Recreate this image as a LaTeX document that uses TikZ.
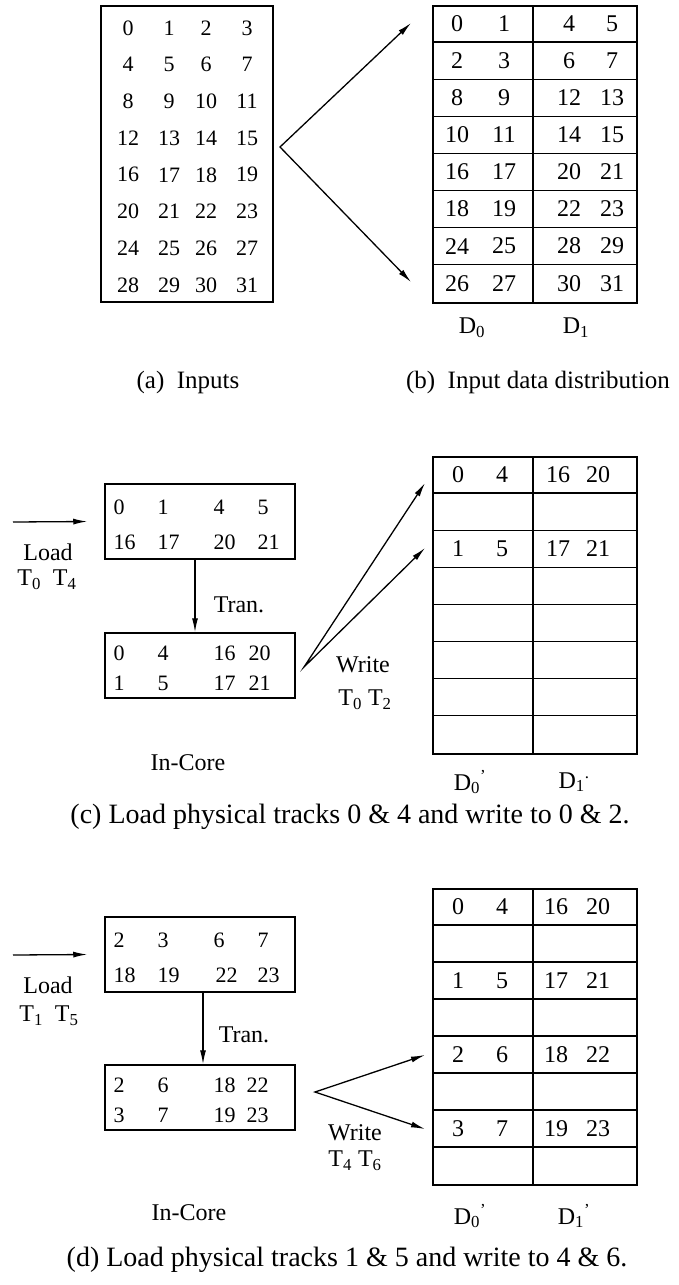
\documentclass[tikz,border=0pt]{standalone}
\usepackage{fontspec}
\setmainfont{Liberation Serif}
\usetikzlibrary{arrows.meta}

\tikzset{
  box/.style={draw, line width=1.5pt, inner sep=0pt},
  rule/.style={line width=1.3pt},
  num/.style={font=\fontsize{22}{24}\selectfont, inner sep=0pt},
  tnum/.style={font=\fontsize{24}{26}\selectfont, inner sep=0pt},
  lbl/.style={font=\fontsize{24}{28}\selectfont, inner sep=0pt},
  captxt/.style={font=\fontsize{28}{32}\selectfont, inner sep=0pt},
}

\begin{document}
\begin{tikzpicture}[x=1pt, y=-1pt, >={Latex[length=14pt,width=6pt]}, line width=1.3pt]
\useasboundingbox (0,0) rectangle (678,1285);

% (a) inputs, four per row
\node[box, minimum width=172pt, minimum height=296pt] (inputs) at (187,154) {};
\foreach \r in {0,...,7}
  \foreach \c/\cx in {0/128,1/169,2/206,3/247} {
    \pgfmathtruncatemacro\n{4*\r+\c}
    \node[num] (in-\n) at (\cx,{28+36.7*\r}) {\n};
  }
\node[captxt, font=\fontsize{25}{28}\selectfont] (cap-a) at (188,382) {(a)\ \ Inputs};

% (b) distribution on D0 and D1
\node[box, minimum width=204pt, minimum height=297pt, anchor=north west] (dist) at (432,5) {};
\draw[rule] (533,5) -- +(0,297);
\foreach \r in {1,...,7}
  \draw[rule] (432,{5+37.1*\r}) -- +(204,0);
\foreach \a/\b/\c/\d [count=\r from 0] in {0/1/4/5, 2/3/6/7, 8/9/12/13, 10/11/14/15,
    16/17/20/21, 18/19/22/23, 24/25/28/29, 26/27/30/31} {
  \node[tnum] (dist-\a) at (457,{23.5+37.1*\r}) {\a};
  \node[tnum] (dist-\b) at (504,{23.5+37.1*\r}) {\b};
  \node[tnum] (dist-\c) at (569,{23.5+37.1*\r}) {\c};
  \node[tnum] (dist-\d) at (612,{23.5+37.1*\r}) {\d};
}
\coordinate (fork) at (280,147);
\coordinate (fork-top) at (411,23);
\coordinate (fork-bot) at (411,282);
\draw[<->] (fork-top) -- (fork) -- (fork-bot);
\node[lbl] (dist-d0) at (472,328) {D\textsubscript{0}};
\node[lbl] (dist-d1) at (576,328) {D\textsubscript{1}};
\node[captxt, font=\fontsize{25}{28}\selectfont] (cap-b) at (538,382) {(b)\ \ Input data distribution};

% (c) load tracks 0 and 4, transpose, write to 0 and 2
\node[box, minimum width=190pt, minimum height=75pt] (ld-c) at (200,521.5) {};
\foreach \v/\vx/\vy in {0/113/507, 1/157/507, 4/213/507, 5/257/507,
    16/113/542, 17/157/542, 20/213/542, 21/257/542}
  \node[num, anchor=west] (ld-c-\v) at (\vx,\vy) {\v};
\node[box, minimum width=190pt, minimum height=65pt] (core-c) at (200,665.5) {};
\foreach \v/\vx/\vy in {0/113/653, 4/157/653, 16/213/653, 20/248/653,
    1/113/683, 5/157/683, 17/213/683, 21/248/683}
  \node[num, anchor=west] (core-c-\v) at (\vx,\vy) {\v};
\coordinate (src-c) at (13,522);
\draw[->] (src-c) -- ([xshift=-17pt]ld-c.west);
\node[lbl] (load-c) at (48,552) {Load};
\node[lbl] (load-t-c) at (47,580) {T\textsubscript{0}\ \ T\textsubscript{4}};
\draw[->] ([xshift=-5pt]ld-c.south) -- ([xshift=-5pt]core-c.north);
\node[lbl] (tran-c) at (239,605) {Tran.};
\node[lbl] (incore-c) at (188,763) {In-Core};

\node[box, minimum width=204pt, minimum height=297pt, anchor=north west] (disk-c) at (432,456) {};
\draw[rule] (533,456) -- +(0,297);
\foreach \r in {1,...,7}
  \draw[rule] (432,{456+37.1*\r}) -- +(204,0);
\foreach \a/\b/\c/\d/\r in {0/4/16/20/0, 1/5/17/21/2} {
  \node[tnum] (disk-c-\a) at (458,{474.5+37.1*\r}) {\a};
  \node[tnum] (disk-c-\b) at (502,{474.5+37.1*\r}) {\b};
  \node[tnum] (disk-c-\c) at (558,{474.5+37.1*\r}) {\c};
  \node[tnum] (disk-c-\d) at (598,{474.5+37.1*\r}) {\d};
}
\coordinate (wr-c) at (304,667);
\coordinate (wr-c0) at (425,483);
\coordinate (wr-c2) at (425,548);
\draw[<->] (wr-c0) -- (wr-c) -- (wr-c2);
\node[lbl] (write-c) at (363,665) {Write};
\node[lbl] (write-t-c) at (365,700) {T\textsubscript{0}\ T\textsubscript{2}};
\node[lbl] (disk-c-d0) at (470,782) {D\textsubscript{0}\textsuperscript{'}};
\node[lbl] (disk-c-d1) at (574,782) {D\textsubscript{1}\textsuperscript{.}};
\node[captxt] (cap-c) at (350,817) {(c) Load physical tracks 0 \& 4 and write to 0 \& 2.};

% (d) load tracks 1 and 5, transpose, write to 4 and 6
\node[box, minimum width=190pt, minimum height=75pt] (ld-d) at (200,954.5) {};
\foreach \v/\vx/\vy in {2/113/940, 3/157/940, 6/213/940, 7/257/940,
    18/113/975, 19/157/975, 22/215/975, 23/257/975}
  \node[num, anchor=west] (ld-d-\v) at (\vx,\vy) {\v};
\node[box, minimum width=190pt, minimum height=65pt] (core-d) at (200,1097.5) {};
\foreach \v/\vx/\vy in {2/113/1085, 6/157/1085, 18/213/1085, 22/246/1085,
    3/113/1115, 7/157/1115, 19/213/1115, 23/246/1115}
  \node[num, anchor=west] (core-d-\v) at (\vx,\vy) {\v};
\coordinate (src-d) at (13,955);
\draw[->] (src-d) -- ([xshift=-17pt]ld-d.west);
\node[lbl] (load-d) at (48,985) {Load};
\node[lbl] (load-t-d) at (49,1016) {T\textsubscript{1}\ \ T\textsubscript{5}};
\draw[->] ([xshift=3pt]ld-d.south) -- ([xshift=3pt]core-d.north);
\node[lbl] (tran-d) at (244,1035) {Tran.};
\node[lbl] (incore-d) at (189,1213) {In-Core};

\node[box, minimum width=204pt, minimum height=296pt, anchor=north west] (disk-d) at (432,888) {};
\draw[rule] (533,888) -- +(0,296);
\foreach \r in {1,...,7}
  \draw[rule] (432,{888+37*\r}) -- +(204,0);
\foreach \a/\b/\c/\d/\r in {0/4/16/20/0, 1/5/17/21/2, 2/6/18/22/4, 3/7/19/23/6} {
  \node[tnum] (disk-d-\a) at (458,{906.5+37*\r}) {\a};
  \node[tnum] (disk-d-\b) at (502,{906.5+37*\r}) {\b};
  \node[tnum] (disk-d-\c) at (556,{906.5+37*\r}) {\c};
  \node[tnum] (disk-d-\d) at (598,{906.5+37*\r}) {\d};
}
\coordinate (wr-d) at (315,1092);
\coordinate (wr-d4) at (425,1055);
\coordinate (wr-d6) at (425,1129);
\draw[<->] (wr-d4) -- (wr-d) -- (wr-d6);
\node[lbl] (write-d) at (355,1133) {Write};
\node[lbl] (write-t-d) at (355,1161) {T\textsubscript{4}\ T\textsubscript{6}};
\node[lbl] (disk-d-d0) at (470,1216) {D\textsubscript{0}\textsuperscript{'}};
\node[lbl] (disk-d-d1) at (574,1216) {D\textsubscript{1}\textsuperscript{'}};
\node[captxt] (cap-d) at (347,1260) {(d) Load physical tracks 1 \& 5 and write to 4 \& 6.};

\end{tikzpicture}
\end{document}
